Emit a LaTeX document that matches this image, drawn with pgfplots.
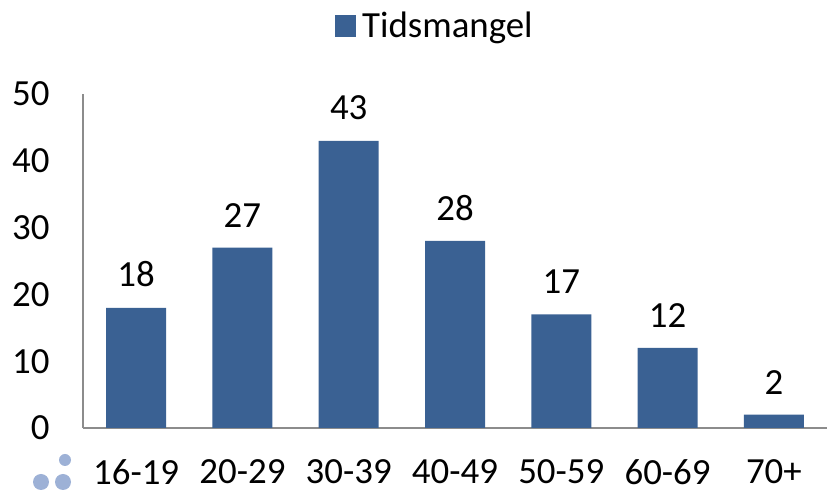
\documentclass[border=0pt]{standalone}
\usepackage{pgfplots}
\pgfplotsset{compat=1.18}
\usepackage{fontspec}
\setmainfont{Carlito}
\definecolor{barblue}{HTML}{3A6193}
\definecolor{dotblue}{HTML}{9DB1D6}
\definecolor{axgray}{HTML}{8C8C8C}
\begin{document}
\begin{tikzpicture}[x=1bp,y=1bp]
\useasboundingbox (0,0) rectangle (827,492);
\begin{axis}[
  at={(83bp,64bp)}, anchor=south west,
  scale only axis, width=744bp, height=334bp,
  ymin=0, ymax=50, ytick={0,10,...,50},
  xmin=-0.5, xmax=6.5,
  xtick=data,
  xticklabels={16-19,20-29,30-39,40-49,50-59,60-69,70+},
  axis x line*=bottom, axis y line*=left,
  axis line style={draw=axgray, line width=1.3pt, -},
  major tick length=0pt,
  /pgf/number format/assume math mode=true,
  tick label style={font=\fontsize{37}{40}\selectfont},
  yticklabel style={xshift=-30bp},
  xticklabel style={yshift=-28bp},
  ybar, bar width=60bp,
  nodes near coords,
  every node near coord/.append style={font=\fontsize{37}{40}\selectfont, yshift=17bp, text=black},
  legend style={at={(0.473,1.204)}, anchor=center, draw=none, fill=none,
    font=\fontsize{37}{40}\selectfont, legend cell align=left,
    /tikz/every odd column/.append style={column sep=4bp}},
  legend image code/.code={\fill[barblue] (0bp,-11bp) rectangle (21bp,11bp);},
  clip=false,
]
\addplot[fill=barblue, draw=none] coordinates {(0,18) (1,27) (2,43) (3,28) (4,17) (5,12) (6,2)};
\addlegendentry{Tidsmangel}
\end{axis}
\fill[dotblue] (41,10) circle (8);
\fill[dotblue] (63,10) circle (8);
\fill[dotblue] (65,32) circle (6);
\end{tikzpicture}
\end{document}
